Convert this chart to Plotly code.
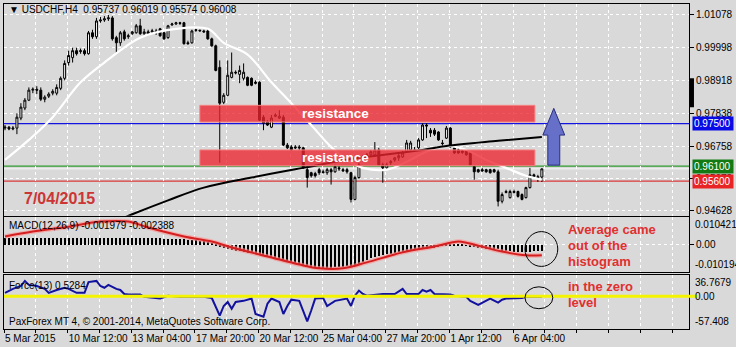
import plotly.graph_objects as go

# ---------------- data ----------------
opens = [0.9735,0.9738,0.9732,0.9735,0.9768,0.9801,0.9827,0.9860,0.9863,0.9860,
         0.9830,0.9840,0.9850,0.9850,0.9866,0.9899,0.9951,0.9967,0.9990,0.9987,
         0.9990,0.9980,1.0049,1.0036,1.0088,1.0091,1.0095,1.0098,1.0033,1.0016,
         1.0052,1.0036,1.0046,1.0049,1.0072,1.0046,1.0052,1.0052,1.0055,1.0062,
         1.0049,1.0033,1.0075,1.0078,1.0082,1.0082,1.0016,1.0016,1.0059,1.0055,
         1.0055,1.0055,1.0029,1.0006,0.9935,0.9820,0.9843,0.9902,0.9919,0.9912,
         0.9899,0.9902,0.9899,0.9886,0.9886,0.9771,0.9755,0.9738,0.9774,0.9768,
         0.9771,0.9679,0.9673,0.9673,0.9673,0.9670,0.9598,0.9588,0.9585,0.9598,
         0.9591,0.9588,0.9598,0.9591,0.9604,0.9598,0.9598,0.9588,0.9500,0.9572,
         0.9630,0.9644,0.9647,0.9647,0.9663,0.9614,0.9604,0.9621,0.9630,0.9637,
         0.9640,0.9657,0.9663,0.9663,0.9670,0.9696,0.9745,0.9728,0.9728,0.9722,
         0.9686,0.9702,0.9735,0.9670,0.9663,0.9660,0.9663,0.9653,0.9608,0.9598,
         0.9598,0.9598,0.9598,0.9598,0.9591,0.9494,0.9523,0.9506,0.9523,0.9526,
         0.9516,0.9506,0.9539,0.9581,0.9575,0.95737]
highs = [0.9745,0.9742,0.9742,0.9784,0.9817,0.9834,0.9869,0.9869,0.9873,0.9869,
         0.9843,0.9853,0.9863,0.9879,0.9905,0.9958,0.9990,1.0000,1.0000,0.9997,
         0.9997,1.0055,1.0059,1.0098,1.0101,1.0104,1.0108,1.0104,1.0039,1.0055,
         1.0059,1.0046,1.0055,1.0078,1.0095,1.0062,1.0059,1.0062,1.0062,1.0065,
         1.0055,1.0075,1.0082,1.0085,1.0085,1.0085,1.0023,1.0059,1.0062,1.0059,
         1.0059,1.0062,1.0033,1.0010,0.9958,0.9850,0.9958,0.9984,0.9925,0.9941,
         0.9948,0.9905,0.9902,0.9892,0.9889,0.9778,0.9761,0.9778,0.9784,0.9794,
         0.9778,0.9686,0.9679,0.9679,0.9679,0.9673,0.9604,0.9591,0.9591,0.9604,
         0.9598,0.9604,0.9604,0.9614,0.9611,0.9604,0.9604,0.9591,0.9578,0.9621,
         0.9647,0.9653,0.9663,0.9689,0.9670,0.9621,0.9621,0.9630,0.9640,0.9650,
         0.9660,0.9696,0.9693,0.9673,0.9702,0.9751,0.9751,0.9735,0.9735,0.9725,
         0.9696,0.9742,0.9738,0.9673,0.9670,0.9668,0.9666,0.9657,0.9611,0.9601,
         0.9604,0.9601,0.9601,0.9601,0.9598,0.9523,0.9532,0.9532,0.9532,0.9529,
         0.9520,0.9542,0.9604,0.9585,0.9581,0.96019]
lows = [0.9728,0.9728,0.9728,0.9715,0.9761,0.9794,0.9824,0.9850,0.9847,0.9824,
        0.9820,0.9834,0.9843,0.9843,0.9860,0.9892,0.9941,0.9951,0.9974,0.9980,
        0.9974,0.9977,1.0029,1.0029,1.0082,1.0085,1.0088,1.0023,0.9980,1.0006,
        1.0023,1.0029,1.0042,1.0046,1.0042,1.0039,1.0042,1.0046,1.0042,1.0036,
        1.0026,1.0029,1.0072,1.0075,1.0075,1.0010,1.0010,1.0013,1.0052,1.0052,
        1.0049,1.0026,1.0003,0.9922,0.9621,0.9814,0.9840,0.9899,0.9912,0.9883,
        0.9892,0.9873,0.9873,0.9879,0.9758,0.9728,0.9742,0.9735,0.9771,0.9765,
        0.9676,0.9666,0.9660,0.9666,0.9663,0.9601,0.9539,0.9572,0.9572,0.9581,
        0.9585,0.9581,0.9549,0.9588,0.9594,0.9591,0.9585,0.9490,0.9497,0.9568,
        0.9624,0.9637,0.9644,0.9640,0.9611,0.9555,0.9598,0.9614,0.9624,0.9627,
        0.9637,0.9653,0.9657,0.9657,0.9666,0.9693,0.9702,0.9706,0.9709,0.9693,
        0.9676,0.9699,0.9670,0.9650,0.9650,0.9650,0.9644,0.9611,0.9565,0.9588,
        0.9591,0.9588,0.9585,0.9588,0.9477,0.9487,0.9520,0.9503,0.9520,0.9506,
        0.9497,0.9503,0.9536,0.9572,0.9558,0.95574]
closes = [0.9738,0.9732,0.9735,0.9771,0.9804,0.9827,0.9860,0.9863,0.9860,0.9830,
          0.9837,0.9847,0.9856,0.9869,0.9899,0.9948,0.9974,0.9990,0.9980,0.9990,
          0.9980,1.0049,1.0036,1.0088,1.0091,1.0095,1.0098,1.0029,1.0016,1.0049,
          1.0029,1.0039,1.0052,1.0072,1.0046,1.0052,1.0046,1.0055,1.0049,1.0039,
          1.0029,1.0072,1.0078,1.0082,1.0080,1.0013,1.0013,1.0055,1.0057,1.0057,
          1.0052,1.0029,1.0006,0.9925,0.9817,0.9843,0.9909,0.9919,0.9917,0.9925,
          0.9919,0.9876,0.9876,0.9883,0.9761,0.9751,0.9745,0.9768,0.9778,0.9774,
          0.9679,0.9670,0.9663,0.9670,0.9670,0.9604,0.9572,0.9578,0.9578,0.9588,
          0.9589,0.9598,0.9591,0.9608,0.9601,0.9594,0.9591,0.9500,0.9572,0.9614,
          0.9637,0.9647,0.9657,0.9663,0.9614,0.9604,0.9614,0.9624,0.9637,0.9644,
          0.9653,0.9686,0.9686,0.9661,0.9696,0.9745,0.9742,0.9719,0.9715,0.9696,
          0.9684,0.9735,0.9673,0.9653,0.9653,0.9655,0.9647,0.9614,0.9591,0.9591,
          0.9594,0.9591,0.9588,0.9591,0.9494,0.9516,0.9526,0.9526,0.9526,0.9510,
          0.9500,0.9539,0.9581,0.9575,0.9572,0.96008]
bar_index = list(range(len(closes)))

ma_fast_idx = [0, 6, 12, 19, 26, 34, 43, 51, 55, 61, 67, 72, 77, 82, 86, 90, 96, 101, 106, 111, 116, 121, 126, 131, 135]
ma_fast_val = [0.9630, 0.9696, 0.9771, 0.9886, 0.9961, 1.0033, 1.0062, 1.0062, 1.0016, 0.9977, 0.9886, 0.9817,
               0.9745, 0.9673, 0.9630, 0.9604, 0.9598, 0.9624, 0.9657, 0.9676, 0.9663, 0.9630, 0.9604, 0.9578, 0.9565]
ma_slow_idx = [26, 32, 41, 50, 62, 75, 89, 105, 111, 124, 135]
ma_slow_val = [0.9418, 0.9451, 0.9497, 0.9539, 0.9572, 0.9604, 0.9637, 0.9663, 0.9676, 0.9693, 0.9706]

macd_main = [0.0026,0.0025,0.0025,0.0026,0.0027,0.0027,0.0028,0.0028,0.0027,0.0027,
             0.0026,0.0026,0.0026,0.0027,0.0027,0.0028,0.0028,0.0028,0.0028,0.0027,
             0.0027,0.0027,0.0028,0.0028,0.0028,0.0028,0.0028,0.0028,0.0027,0.0027,
             0.0027,0.0027,0.0026,0.0026,0.0026,0.0026,0.0025,0.0025,0.0025,0.0025,
             0.0024,0.0024,0.0024,0.0023,0.0023,0.0022,0.0020,0.0019,0.0018,0.0017,
             0.0015,0.0012,0.0009,0.0005,-0.0004,-0.0010,-0.0014,-0.0018,-0.0020,-0.0022,
             -0.0025,-0.0028,-0.0030,-0.0033,-0.0035,-0.0040,-0.0044,-0.0047,-0.0050,-0.0052,
             -0.0055,-0.0060,-0.0064,-0.0068,-0.0070,-0.0073,-0.0077,-0.0080,-0.0082,-0.0083,
             -0.0084,-0.0084,-0.0083,-0.0082,-0.0081,-0.0080,-0.0079,-0.0080,-0.0078,-0.0072,
             -0.0064,-0.0055,-0.0048,-0.0044,-0.0040,-0.0037,-0.0034,-0.0031,-0.0029,-0.0027,
             -0.0025,-0.0023,-0.0021,-0.0019,-0.0017,-0.0015,-0.0013,-0.0011,-0.0009,-0.0006,
             -0.0003,0.0001,0.0002,0.0002,0.0001,0.0001,-0.0002,-0.0005,-0.0008,-0.0010,
             -0.0012,-0.0013,-0.0014,-0.0015,-0.0016,-0.0020,-0.0022,-0.0023,-0.0024,-0.0024,
             -0.0025,-0.0025,-0.0024,-0.0022,-0.0021,-0.0020]
signal_idx = [0, 7, 16, 24, 31, 36, 45, 52, 57, 66, 74, 79, 85, 91, 100, 108, 114, 116, 125, 131, 135]
signal_val = [0.0031, 0.0049, 0.0067, 0.0086, 0.0086, 0.0064, 0.0031, 0.0012, -0.0010, -0.0043, -0.0073,
              -0.0087, -0.0087, -0.0065, -0.0028, -0.0006, 0.0012, 0.0008, -0.0025, -0.0039, -0.0039]

force_idx = [0,1,2,4,5,6,8,10,11,13,15,16,18,20,21,23,24,25,26,28,29,30,31,34,35,39,41,44,47,50,52,53,54,55,56,
             57,58,60,62,63,65,66,67,69,70,71,72,74,76,77,78,80,81,83,86,87,88,89,90,91,95,98,100,101,104,105,
             106,107,108,112,113,116,117,119,121,122,124,125,126,130,131,135]
force_val = [6,10,13,18,27,20,18,13,6,11,15,13,6,6,25,27,18,15,20,13,11,4,3,3,-1,-4,1,-1,-1,-1,-3,-18,-34,-17,-10,
             -22,-10,-8,-4,-31,-36,-13,-4,-10,-31,-17,-6,-8,-44,-25,-4,-3,-17,-8,-4,-17,1,10,4,1,4,4,13,4,4,11,
             8,11,4,3,1,-1,-8,-15,-8,-4,-11,-6,-4,-3,-1,-1]

x_label_bars = [0, 16, 32, 48, 64, 80, 96, 112, 128]
x_labels = ["5 Mar 2015", "10 Mar 12:00", "13 Mar 04:00", "17 Mar 20:00", "20 Mar 12:00",
            "25 Mar 04:00", "27 Mar 20:00", "1 Apr 12:00", "6 Apr 04:00"]
grid_bars = list(range(0, 176, 8))
price_ticks = [1.01078, 0.99998, 0.98918, 0.97838, 0.96758, 0.95678, 0.94628]
levels = [0.975, 0.961, 0.956]
level_colors = ["#1414e0", "#2e9a2e", "#d83838"]
level_label_bg = ["#0a0ae6", "#127a12", "#e82424"]
bid_price = 0.96008
zones = [(0.9755, 0.9810), (0.9611, 0.9663)]
zone_bars = (49, 133.25)
macd_ticks = (0.010421, -0.010194)
force_ticks = (36.7679, -57.408)

# ---------------- layout helpers ----------------
W, H = 736, 347
ML, MR, MT, MB = 3, 44, 3, 17
PW, PH = W - ML - MR, H - MT - MB
def px(x):
    return (x - ML) / PW
def py(y):
    return (H - MB - y) / PH

BG = "#d9d9d9"
FONT = "Liberation Sans"
TOFF = -0.25  # tick offset in bar units
XR = [-0.25, 172]

fig = go.Figure()

fig.add_trace(go.Candlestick(
    x=bar_index, open=opens, high=highs, low=lows, close=closes,
    increasing=dict(line=dict(color="black", width=1), fillcolor="white"),
    decreasing=dict(line=dict(color="black", width=1), fillcolor="black"),
    whiskerwidth=0, xaxis="x", yaxis="y", showlegend=False, hoverinfo="skip"))
fig.add_trace(go.Scatter(x=ma_fast_idx, y=ma_fast_val, mode="lines",
                         line=dict(color="white", width=2.2, shape="spline"),
                         xaxis="x", yaxis="y", showlegend=False, hoverinfo="skip"))
fig.add_trace(go.Scatter(x=ma_slow_idx, y=ma_slow_val, mode="lines",
                         line=dict(color="black", width=2, shape="spline"),
                         xaxis="x", yaxis="y", showlegend=False, hoverinfo="skip"))

fig.add_trace(go.Bar(x=bar_index, y=macd_main, width=0.25,
                     marker=dict(color="black", line=dict(width=0)),
                     xaxis="x2", yaxis="y2", showlegend=False, hoverinfo="skip"))
fig.add_trace(go.Scatter(x=signal_idx, y=signal_val, mode="lines",
                         line=dict(color="rgba(255,140,140,0.6)", width=4.5, shape="spline"),
                         xaxis="x2", yaxis="y2", showlegend=False, hoverinfo="skip"))
fig.add_trace(go.Scatter(x=signal_idx, y=signal_val, mode="lines",
                         line=dict(color="#d42020", width=2, shape="spline"),
                         xaxis="x2", yaxis="y2", showlegend=False, hoverinfo="skip"))

fig.add_trace(go.Scatter(x=force_idx, y=force_val, mode="lines",
                         line=dict(color="#12129e", width=2),
                         xaxis="x3", yaxis="y3", showlegend=False, hoverinfo="skip"))

grid_vals = [b + TOFF for b in grid_bars]
ticktext = [x_labels[x_label_bars.index(b)] if b in x_label_bars else "" for b in grid_bars]
xcommon = dict(range=XR, tickvals=grid_vals, showgrid=True, gridcolor="white",
               griddash="3px,3px", gridwidth=1, showline=True, mirror=True, linecolor="black",
               linewidth=1, zeroline=False, fixedrange=True)
axfont = dict(family=FONT, size=10, color="black")

fig.update_layout(
    width=W, height=H, margin=dict(l=ML, r=MR, t=MT, b=MB),
    paper_bgcolor=BG, plot_bgcolor=BG, showlegend=False, bargap=0,
    xaxis=dict(domain=[0, 1], anchor="y", showticklabels=False, ticks="",
               rangeslider=dict(visible=False), **xcommon),
    xaxis2=dict(domain=[0, 1], anchor="y2", showticklabels=False, ticks="", **xcommon),
    xaxis3=dict(domain=[0, 1], anchor="y3", showticklabels=True, ticktext=ticktext,
                ticks="outside", ticklen=3, tickcolor="black", ticklabelposition="outside right",
                tickangle=0, ticklabeloverflow="allow", tickfont=axfont, **xcommon),
    yaxis=dict(domain=[py(216), 1], anchor="x", side="right", range=[0.94464, 1.01438],
               tickvals=price_ticks, ticktext=[f"{v:.5f}" for v in price_ticks],
               ticks="outside", ticklen=4, tickcolor="black", tickfont=axfont,
               showgrid=True, gridcolor="white", griddash="3px,3px", showline=True, mirror=True,
               linecolor="black", zeroline=False, fixedrange=True),
    yaxis2=dict(domain=[py(273), py(217)], anchor="x2", side="right",
                range=[macd_ticks[1], macd_ticks[0]], tickvals=[0], ticktext=["0.00"],
                ticks="outside", ticklen=4, tickcolor="black", tickfont=axfont,
                showgrid=True, gridcolor="white", griddash="3px,3px", showline=True, mirror=True,
                linecolor="black", zeroline=False, fixedrange=True),
    yaxis3=dict(domain=[0, py(276)], anchor="x3", side="right",
                range=[force_ticks[1], force_ticks[0]], tickvals=[0], ticktext=[""],
                ticks="outside", ticklen=4, tickcolor="black", tickfont=axfont,
                showgrid=False, showline=True, mirror=True,
                linecolor="black", zeroline=False, fixedrange=True),
)

shapes = []
# level lines
for lv, col in zip(levels, level_colors):
    shapes.append(dict(type="line", xref="x", yref="y", x0=XR[0], x1=XR[1], y0=lv, y1=lv,
                       line=dict(color=col, width=1.2), layer="below"))
shapes.append(dict(type="line", xref="x", yref="y", x0=XR[0], x1=XR[1], y0=bid_price, y1=bid_price,
                   line=dict(color="rgba(255,255,255,0.8)", width=1), layer="below"))
# resistance zones
for lo, hi in zones:
    shapes.append(dict(type="rect", xref="x", yref="y", x0=zone_bars[0], x1=zone_bars[1], y0=lo, y1=hi,
                       fillcolor="rgba(236,36,48,0.78)", line=dict(color="rgba(245,130,130,1)", width=1),
                       layer="above"))
# blue arrow
ab, abase, aneck, atip, sw, hw = 138, 0.9613, 0.9712, 0.9800, 1.5, 2.75
shapes.append(dict(type="path", xref="x", yref="y", layer="above",
                   path=(f"M {ab-sw},{abase} L {ab+sw},{abase} L {ab+sw},{aneck} L {ab+hw},{aneck} "
                         f"L {ab},{atip} L {ab-hw},{aneck} L {ab-sw},{aneck} Z"),
                   fillcolor="#6670c8", line=dict(color="#2a2e80", width=1)))
# black marker on price axis
shapes.append(dict(type="rect", xref="paper", yref="y", x0=1.0, x1=1.0 + 5 / PW, y0=0.9804, y1=0.9899,
                   fillcolor="black", line=dict(width=0), layer="above"))
# yellow zero level in force window
shapes.append(dict(type="line", xref="paper", yref="y3", x0=0, x1=1.0 + 8 / PW, y0=0, y1=0,
                   line=dict(color="#f4f400", width=3), layer="above"))
# circles
shapes.append(dict(type="circle", xref="x2", yref="y2", x0=130.75, x1=139, y0=-0.0080, y1=0.0049,
                   line=dict(color="black", width=1), layer="above"))
shapes.append(dict(type="circle", xref="x3", yref="y3", x0=130.75, x1=137.75, y0=-21.8, y1=16.6,
                   line=dict(color="black", width=1), layer="above"))
fig.update_layout(shapes=shapes)

ann = []
def txt(x, y, s, size=10, color="black", bold=False, xanchor="left", yanchor="middle", **kw):
    ann.append(dict(x=x, y=y, xref=kw.pop("xref", "paper"), yref=kw.pop("yref", "paper"),
                    text=f"<b>{s}</b>" if bold else s, showarrow=False, xanchor=xanchor, yanchor=yanchor,
                    font=dict(family=FONT, size=size, color=color), **kw))

txt(px(6), py(9), "▼ USDCHF,H4  0.95737 0.96019 0.95574 0.96008")
txt(px(6), py(226), "MACD(12,26,9) -0.001979 -0.002388")
txt(px(6), py(286), "Force(13) 0.5284")
txt(px(6), py(322), "PaxForex MT 4, © 2001-2014, MetaQuotes Software Corp.")
txt(px(21), py(199), "7/04/2015", size=16, color="#cc3535", bold=True)
for lo, hi in zones:
    txt(83, (lo + hi) / 2, "resistance", size=13.5, color="white", bold=True, xanchor="center",
        xref="x", yref="y")
for s, yy in [("Average came", 230), ("out of the", 246), ("histogram", 262),
              ("in the zero", 287), ("level", 303)]:
    txt(px(568), py(yy), s, size=13, color="#e03030", bold=True)
for lv, bg in zip(levels, level_label_bg):
    txt(1.0, lv, f"{lv:.5f}", color="white", xref="paper", yref="y", xshift=3, bgcolor=bg,
        borderpad=1, width=38, align="left")
# indicator window scale labels
txt(1.0, 1, f"{macd_ticks[0]:.6f}", xref="paper", yref="y2 domain", yanchor="top", xshift=4)
txt(1.0, 0, f"{macd_ticks[1]:.6f}", xref="paper", yref="y2 domain", yanchor="bottom", xshift=4)
txt(1.0, 1, f"{force_ticks[0]:.4f}", xref="paper", yref="y3 domain", yanchor="top", xshift=4)
txt(1.0, 0, "0.00", xref="paper", yref="y3", yanchor="middle", xshift=4)
txt(1.0, 0, f"{force_ticks[1]:.3f}", xref="paper", yref="y3 domain", yanchor="bottom", xshift=4)
fig.update_layout(annotations=ann)

fig.write_html("out.html")
